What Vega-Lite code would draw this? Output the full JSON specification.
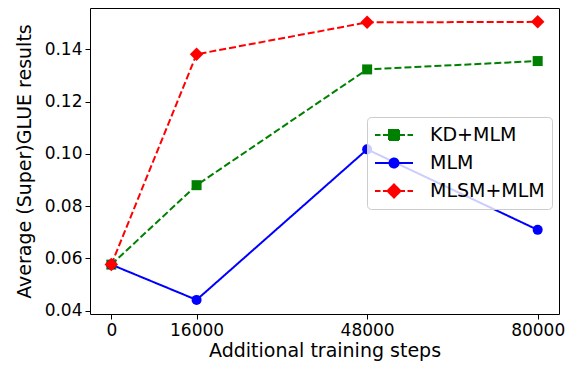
{
  "$schema": "https://vega.github.io/schema/vega-lite/v6.json",
  "width": 469,
  "height": 306,
  "autosize": {"type": "none"},
  "padding": {"left": 90, "top": 8, "right": 15, "bottom": 51},
  "background": "white",
  "config": {
    "font": "DejaVu Sans",
    "view": {"stroke": "black", "strokeWidth": 1},
    "axis": {
      "grid": false,
      "domain": false,
      "tickColor": "black",
      "tickSize": 5,
      "tickWidth": 1,
      "labelColor": "black",
      "labelFont": "DejaVu Sans",
      "labelFontSize": 17,
      "labelPadding": 3,
      "titleColor": "black",
      "titleFont": "DejaVu Sans",
      "titleFontSize": 19,
      "titleFontWeight": "normal"
    }
  },
  "data": {
    "values": [
      {"steps": 0, "value": 0.0576, "series": "KD+MLM"},
      {"steps": 16000, "value": 0.0880, "series": "KD+MLM"},
      {"steps": 48000, "value": 0.1323, "series": "KD+MLM"},
      {"steps": 80000, "value": 0.1355, "series": "KD+MLM"},
      {"steps": 0, "value": 0.0576, "series": "MLM"},
      {"steps": 16000, "value": 0.0441, "series": "MLM"},
      {"steps": 48000, "value": 0.1017, "series": "MLM"},
      {"steps": 80000, "value": 0.0709, "series": "MLM"},
      {"steps": 0, "value": 0.0576, "series": "MLSM+MLM"},
      {"steps": 16000, "value": 0.1381, "series": "MLSM+MLM"},
      {"steps": 48000, "value": 0.1503, "series": "MLSM+MLM"},
      {"steps": 80000, "value": 0.1505, "series": "MLSM+MLM"}
    ]
  },
  "encoding": {
    "x": {
      "field": "steps",
      "type": "quantitative",
      "scale": {"domain": [-4000, 84000], "nice": false, "zero": false},
      "axis": {"values": [0, 16000, 48000, 80000], "format": "d", "title": "Additional training steps", "titlePadding": 3}
    },
    "y": {
      "field": "value",
      "type": "quantitative",
      "scale": {"domain": [0.0387, 0.1558], "nice": false, "zero": false},
      "axis": {"values": [0.04, 0.06, 0.08, 0.1, 0.12, 0.14], "format": ".2f", "title": "Average (Super)GLUE results", "titlePadding": 10}
    },
    "color": {
      "field": "series",
      "type": "nominal",
      "scale": {"domain": ["KD+MLM", "MLM", "MLSM+MLM"], "range": ["#008000", "#0000ff", "#ff0000"]},
      "legend": {
        "title": null,
        "orient": "none",
        "legendX": 277,
        "legendY": 109,
        "padding": 7,
        "rowPadding": 7,
        "labelOffset": 34,
        "symbolSize": 400,
        "labelFont": "DejaVu Sans",
        "labelFontSize": 19,
        "labelColor": "black",
        "fillColor": "rgba(255,255,255,0.8)",
        "strokeColor": "#cccccc",
        "cornerRadius": 4,
        "symbolStrokeWidth": 2,
        "encode": {
          "symbols": {
            "update": {
              "shape": {"signal": "datum.value === 'KD+MLM' ? 'M-1,0H-0.45M-0.2,0H0.3M0.4,-0.5H1.4V0.5H0.4ZM1.5,0H2M2.25,0H2.8' : datum.value === 'MLM' ? 'M-1,0H2.8M1.35,0A0.45,0.45 0 1,1 0.45,0A0.45,0.45 0 1,1 1.35,0Z' : 'M-1,0H-0.45M-0.2,0H0.25M0.9,-0.65L1.55,0L0.9,0.65L0.25,0ZM1.55,0H2M2.25,0H2.8'"},
              "fill": {"signal": "datum.value === 'KD+MLM' ? '#008000' : datum.value === 'MLM' ? '#0000ff' : '#ff0000'"},
              "stroke": {"signal": "datum.value === 'KD+MLM' ? '#008000' : datum.value === 'MLM' ? '#0000ff' : '#ff0000'"},
              "strokeDash": {"value": [1, 0]},
              "opacity": {"value": 1},
              "fillOpacity": {"value": 1},
              "strokeOpacity": {"value": 1}
            }
          }
        }
      }
    }
  },
  "layer": [
    {
      "mark": {"type": "line", "strokeWidth": 2},
      "encoding": {
        "detail": {"field": "series"},
        "strokeDash": {
          "condition": {"test": "datum.series === 'MLM'", "value": [1, 0]},
          "value": [7, 3]
        }
      }
    },
    {
      "mark": {"type": "point", "filled": true, "size": 100, "opacity": 1},
      "encoding": {
        "shape": {
          "condition": [
            {"test": "datum.series === 'KD+MLM'", "value": "square"},
            {"test": "datum.series === 'MLM'", "value": "circle"}
          ],
          "value": "M0,-1.35L1.35,0L0,1.35L-1.35,0Z"
        }
      }
    }
  ]
}
